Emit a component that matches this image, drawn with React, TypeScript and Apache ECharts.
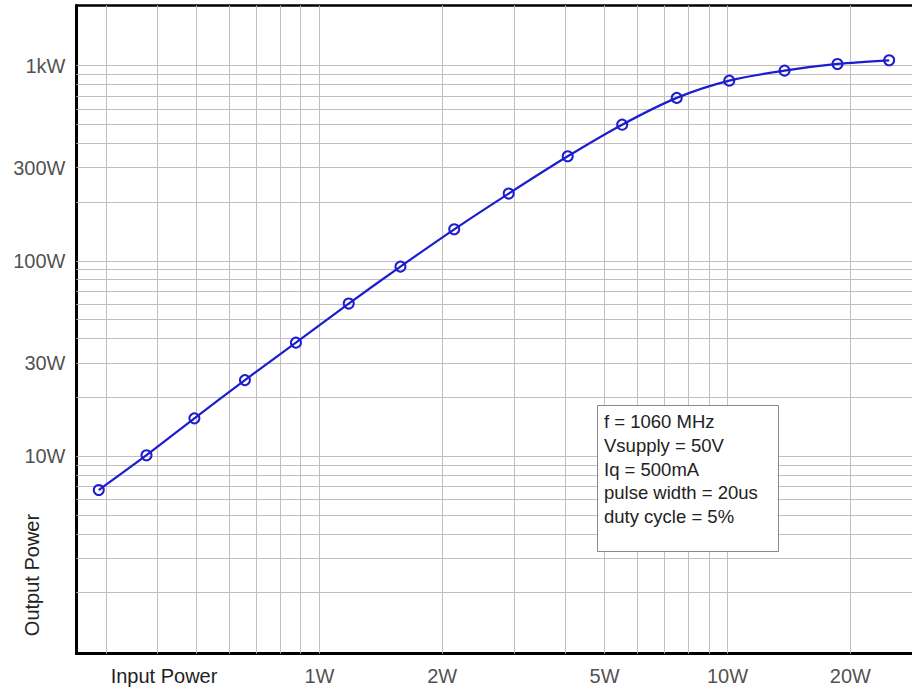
import React, { useEffect, useRef } from "react";
import * as echarts from "echarts";

// Measured data (input power W, output power W)
const inputPower = [0.288, 0.377, 0.494, 0.657, 0.876, 1.18, 1.58, 2.14, 2.91, 4.06, 5.52, 7.51, 10.1, 13.8, 18.6, 24.9];
const outputPower = [6.7, 10.1, 15.6, 24.5, 38.1, 60.4, 93.4, 145, 221, 343, 498, 683, 837, 942, 1019, 1064];

// Tick labels
const xTickValues = [1, 2, 5, 10, 20];
const xTickLabels = ["1W", "2W", "5W", "10W", "20W"];
const yTickValues = [10, 30, 100, 300, 1000];
const yTickLabels = ["10W", "30W", "100W", "300W", "1kW"];

// Grid line values
const xGridValues = [0.3, 0.4, 0.5, 0.6, 0.7, 0.8, 0.9, 1, 2, 3, 4, 5, 6, 7, 8, 9, 10, 20];
const yGridValues = [
  2, 3, 4, 5, 6, 7, 8, 9, 10,
  20, 30, 40, 50, 60, 70, 80, 90, 100,
  200, 300, 400, 500, 600, 700, 800, 900, 1000,
];

// Axis ranges
const xMin = 0.254;
const xMax = 35;
const yMin = 0.975;
const yMax = 2030;

const noteLines = [
  "f = 1060 MHz",
  "Vsupply = 50V",
  "Iq = 500mA",
  "pulse width = 20us",
  "duty cycle = 5%",
];

const FONT = "'Liberation Sans', Arial, Helvetica, sans-serif";
const BLUE = "#1c1cd0";
const GRID_COLOR = "#c0c0c0";

export default function App() {
  const ref = useRef<HTMLDivElement>(null);

  useEffect(() => {
    if (!ref.current) return;
    const chart = echarts.init(ref.current, undefined, { renderer: "svg" });

    const gridLineStyle = { color: GRID_COLOR, width: 1, type: "solid" as const };

    const option: any = {
      animation: false,
      backgroundColor: "#fff",
      grid: {
        left: 76.5,
        top: 5.5,
        width: 873,
        height: 648,
        outerBoundsMode: "none",
        containLabel: false,
        show: true,
        backgroundColor: "#fff",
        borderColor: "#000",
        borderWidth: 2.5,
      },
      xAxis: {
        type: "log",
        logBase: 10,
        min: xMin,
        max: xMax,
        axisLine: { show: true, lineStyle: { color: "#000", width: 3 } },
        axisTick: { show: false },
        axisLabel: { show: false },
        splitLine: { show: false },
        minorSplitLine: { show: false },
      },
      yAxis: {
        type: "log",
        logBase: 10,
        min: yMin,
        max: yMax,
        axisLine: { show: true, lineStyle: { color: "#000", width: 3 } },
        axisTick: { show: false },
        axisLabel: { show: false },
        splitLine: { show: false },
        minorSplitLine: { show: false },
      },
      series: [
        {
          name: "xgrid",
          type: "scatter",
          silent: true,
          clip: false,
          z: 1,
          symbol: "circle",
          symbolSize: 0,
          itemStyle: { color: "rgba(0,0,0,0)" },
          data: xTickValues.map((v) => [v, yMin]),
          label: {
            show: true,
            position: "bottom",
            distance: 12,
            color: "#222",
            fontFamily: FONT,
            fontSize: 20,
            formatter: (p: any) => xTickLabels[p.dataIndex],
          },
          markLine: {
            silent: true,
            animation: false,
            symbol: ["none", "none"],
            label: { show: false },
            emphasis: { disabled: true },
            lineStyle: gridLineStyle,
            data: xGridValues.map((v) => ({ xAxis: v })),
          },
        },
        {
          name: "ygrid",
          type: "scatter",
          silent: true,
          clip: false,
          z: 1,
          symbol: "circle",
          symbolSize: 0,
          itemStyle: { color: "rgba(0,0,0,0)" },
          data: yTickValues.map((v) => [xMin, v]),
          label: {
            show: true,
            position: "left",
            distance: 11,
            color: "#222",
            fontFamily: FONT,
            fontSize: 20,
            formatter: (p: any) => yTickLabels[p.dataIndex],
          },
          markLine: {
            silent: true,
            animation: false,
            symbol: ["none", "none"],
            label: { show: false },
            emphasis: { disabled: true },
            lineStyle: gridLineStyle,
            data: yGridValues.map((v) => ({ yAxis: v })),
          },
        },
        {
          name: "Output Power",
          type: "line",
          z: 5,
          smooth: 0.3,
          symbol: "circle",
          symbolSize: 10,
          itemStyle: { color: "rgba(0,0,0,0)", borderColor: BLUE, borderWidth: 2 },
          lineStyle: { color: BLUE, width: 2.2 },
          data: inputPower.map((x, i) => [x, outputPower[i]]),
        },
      ],
      graphic: [
        {
          type: "text",
          x: 164,
          y: 676,
          z: 100,
          style: {
            text: "Input Power",
            fill: "#222",
            font: `20px ${FONT}`,
            textAlign: "center",
            textVerticalAlign: "middle",
          },
        },
        {
          type: "text",
          x: 32,
          y: 575,
          z: 100,
          rotation: Math.PI / 2,
          style: {
            text: "Output Power",
            fill: "#222",
            font: `20px ${FONT}`,
            textAlign: "center",
            textVerticalAlign: "middle",
          },
        },
        {
          type: "rect",
          z: 100,
          shape: { x: 597.5, y: 405.5, width: 181, height: 146 },
          style: { fill: "#fff", stroke: "#8a8a8a", lineWidth: 1 },
        },
        {
          type: "text",
          z: 101,
          x: 604,
          y: 410.2,
          style: {
            text: noteLines.join("\n"),
            fill: "#222",
            font: `18.5px ${FONT}`,
            lineHeight: 23.6,
            textAlign: "left",
            textVerticalAlign: "top",
          },
        },
      ],
    };

    chart.setOption(option);
    return () => chart.dispose();
  }, []);

  return (
    <div
      ref={ref}
      style={{ position: "fixed", left: 0, top: 0, width: 912, height: 691, background: "#fff" }}
    />
  );
}
